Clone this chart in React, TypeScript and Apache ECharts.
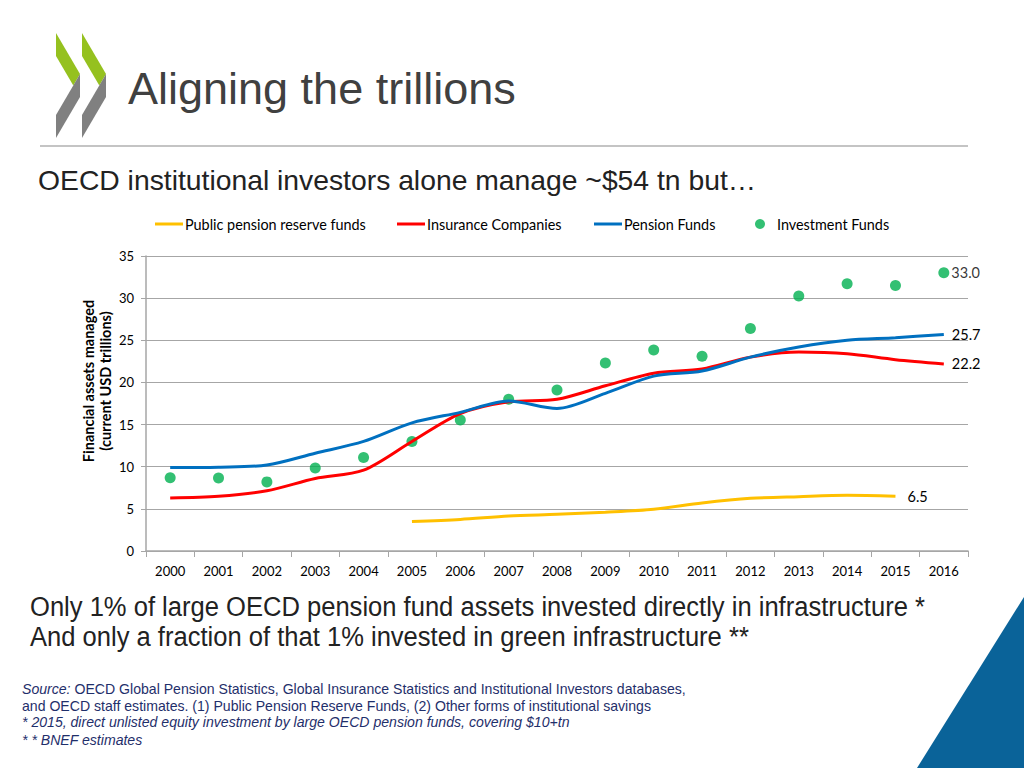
import React, { useEffect, useRef } from "react";
import * as echarts from "echarts";

const years = ["2000","2001","2002","2003","2004","2005","2006","2007","2008","2009","2010","2011","2012","2013","2014","2015","2016"];
const publicPension: (number | null)[] = [null, null, null, null, null, 3.5, 3.75, 4.15, 4.35, 4.6, 4.95, 5.7, 6.25, 6.45, 6.6, 6.5];
const insurance = [6.3, 6.5, 7.15, 8.6, 9.6, 13.0, 16.3, 17.7, 18.0, 19.6, 21.1, 21.6, 23.0, 23.6, 23.4, 22.7, 22.2];
const pension = [9.9, 9.95, 10.2, 11.6, 13.0, 15.2, 16.45, 17.8, 16.9, 18.7, 20.75, 21.35, 23.0, 24.2, 25.0, 25.3, 25.7];
const investment = [8.7, 8.65, 8.2, 9.85, 11.1, 13.0, 15.55, 18.0, 19.1, 22.3, 23.85, 23.1, 26.4, 30.25, 31.7, 31.5, 33.0];
const yTicks = { min: 0, max: 35, interval: 5 };
const seriesNames = ["Public pension reserve funds", "Insurance Companies", "Pension Funds", "Investment Funds"];
const yAxisTitle = "Financial assets managed\n(current USD trillions)";

const FONT = "Lato";
const ARIAL = "'Liberation Sans', Arial, sans-serif";
const NAVY = "#1f2f6b";

const endLabel = (distance: number) => ({
  show: true,
  distance,
  formatter: (p: any) => Number(Array.isArray(p.value) ? p.value[1] : p.value).toFixed(1),
  fontFamily: FONT,
  fontSize: 14.5,
  color: "#000",
});

export default function App() {
  const ref = useRef<HTMLDivElement>(null);
  useEffect(() => {
    if (!ref.current) return;
    const chart = echarts.init(ref.current, undefined, { renderer: "svg" });
    const lineLegend = (name: string, left: number) => ({
      data: [name],
      left,
      top: 217,
      padding: 0,
      icon: "rect",
      itemWidth: 28,
      itemHeight: 3,
      itemGap: 0,
      textStyle: { fontFamily: FONT, fontSize: 14.4, color: "#000", padding: [0, 0, 0, -3] },
      selectedMode: false,
    });
    const lastInv = investment.length - 1;
    chart.setOption({
      animation: false,
      backgroundColor: "#ffffff",
      legend: [
        lineLegend(seriesNames[0], 155),
        lineLegend(seriesNames[1], 397),
        lineLegend(seriesNames[2], 594),
        {
          data: [seriesNames[3]],
          left: 755,
          top: 217,
          padding: 0,
          icon: "circle",
          itemWidth: 10,
          itemHeight: 10,
          textStyle: { fontFamily: FONT, fontSize: 14.4, color: "#000", padding: [0, 0, 0, 7] },
          selectedMode: false,
        },
      ],
      grid: { left: 146, right: 56, top: 256, bottom: 217 },
      xAxis: {
        type: "category",
        data: years,
        boundaryGap: true,
        axisLine: { lineStyle: { color: "#a6a6a6", width: 1.5 } },
        axisTick: { show: true, length: 6, lineStyle: { color: "#a6a6a6" } },
        axisLabel: { fontFamily: FONT, fontSize: 13, color: "#000", margin: 13 },
      },
      yAxis: {
        type: "value",
        min: yTicks.min,
        max: yTicks.max,
        interval: yTicks.interval,
        axisLine: { show: true, lineStyle: { color: "#a6a6a6", width: 1.5 } },
        axisTick: { show: true, length: 5, lineStyle: { color: "#a6a6a6" } },
        axisLabel: { fontFamily: FONT, fontSize: 13, color: "#000", margin: 12 },
        splitLine: { lineStyle: { color: "#a6a6a6", width: 1.2 } },
      },
      series: [
        {
          name: seriesNames[0],
          type: "line",
          data: publicPension,
          color: "#FFC000",
          lineStyle: { width: 3 },
          symbol: "none",
          smooth: 0.3,
          endLabel: endLabel(12),
        },
        {
          name: seriesNames[1],
          type: "line",
          data: insurance,
          color: "#FF0000",
          lineStyle: { width: 3 },
          symbol: "none",
          smooth: 0.3,
          endLabel: endLabel(8),
        },
        {
          name: seriesNames[2],
          type: "line",
          data: pension,
          color: "#0070C0",
          lineStyle: { width: 3 },
          symbol: "none",
          smooth: 0.3,
          endLabel: endLabel(8),
        },
        {
          name: seriesNames[3],
          type: "scatter",
          data: investment.map((v, i) =>
            i === lastInv
              ? {
                  value: v,
                  label: {
                    show: true,
                    position: "right",
                    distance: 2,
                    formatter: v.toFixed(1),
                    fontFamily: FONT,
                    fontSize: 14.5,
                    color: "#000",
                  },
                }
              : v
          ),
          color: "#00B050",
          symbolSize: 11,
        },
      ],
      graphic: [
        { type: "polygon", shape: { points: [[56, 33], [80, 74], [73.3, 85.5], [56, 56]] }, style: { fill: "#95c11f" } },
        { type: "polygon", shape: { points: [[80, 74], [80, 97], [56, 138], [56, 115]] }, style: { fill: "#808080" } },
        { type: "polygon", shape: { points: [[82, 33], [106, 74], [99.3, 85.5], [82, 56]] }, style: { fill: "#95c11f" } },
        { type: "polygon", shape: { points: [[106, 74], [106, 97], [82, 138], [82, 115]] }, style: { fill: "#808080" } },
        {
          type: "text",
          x: 128,
          y: 88,
          style: { text: "Aligning the trillions", font: `45px ${ARIAL}`, fill: "#404040", verticalAlign: "middle" },
        },
        { type: "line", shape: { x1: 40, y1: 146, x2: 968, y2: 146 }, style: { stroke: "#b0b0b0", lineWidth: 1.5 } },
        {
          type: "text",
          x: 38,
          y: 180,
          style: { text: "OECD institutional investors alone manage ~$54 tn but…", font: `28.3px ${ARIAL}`, fill: "#222", verticalAlign: "middle" },
        },
        {
          type: "text",
          x: 97,
          y: 381,
          rotation: Math.PI / 2,
          style: {
            text: yAxisTitle,
            font: `bold 14.5px ${FONT}`,
            fill: "#000",
            align: "center",
            verticalAlign: "middle",
            lineHeight: 17,
          },
        },
        {
          type: "text",
          x: 30,
          y: 607,
          scaleX: 0.947,
          style: { text: "Only 1% of large OECD pension fund assets invested directly in infrastructure *", font: `27px ${ARIAL}`, fill: "#222", verticalAlign: "middle" },
        },
        {
          type: "text",
          x: 30,
          y: 637,
          scaleX: 0.947,
          style: { text: "And only a fraction of that 1% invested in green infrastructure **", font: `27px ${ARIAL}`, fill: "#222", verticalAlign: "middle" },
        },
        {
          type: "text",
          x: 22,
          y: 689,
          scaleX: 1.007,
          style: {
            text: "{i|Source:} OECD Global Pension Statistics, Global Insurance Statistics and Institutional Investors databases,",
            font: `14px ${ARIAL}`,
            fill: NAVY,
            verticalAlign: "middle",
            rich: { i: { fontStyle: "italic", fontFamily: ARIAL, fontSize: 14, fill: NAVY } },
          },
        },
        {
          type: "text",
          x: 22,
          y: 706,
          scaleX: 1.007,
          style: { text: "and OECD staff estimates. (1) Public Pension Reserve Funds, (2) Other forms of institutional savings", font: `14px ${ARIAL}`, fill: NAVY, verticalAlign: "middle" },
        },
        {
          type: "text",
          x: 22,
          y: 722,
          scaleX: 1.007,
          style: { text: "* 2015, direct unlisted equity investment by large OECD pension funds, covering $10+tn", font: `italic 14px ${ARIAL}`, fill: NAVY, verticalAlign: "middle" },
        },
        {
          type: "text",
          x: 22,
          y: 740,
          scaleX: 1.007,
          style: { text: "* * BNEF estimates", font: `italic 14px ${ARIAL}`, fill: NAVY, verticalAlign: "middle" },
        },
        { type: "polygon", shape: { points: [[1024, 597], [1024, 768], [917, 768]] }, style: { fill: "#0a6399" } },
      ],
    });
    return () => chart.dispose();
  }, []);
  return <div ref={ref} style={{ position: "absolute", left: 0, top: 0, width: 1024, height: 768 }} />;
}
